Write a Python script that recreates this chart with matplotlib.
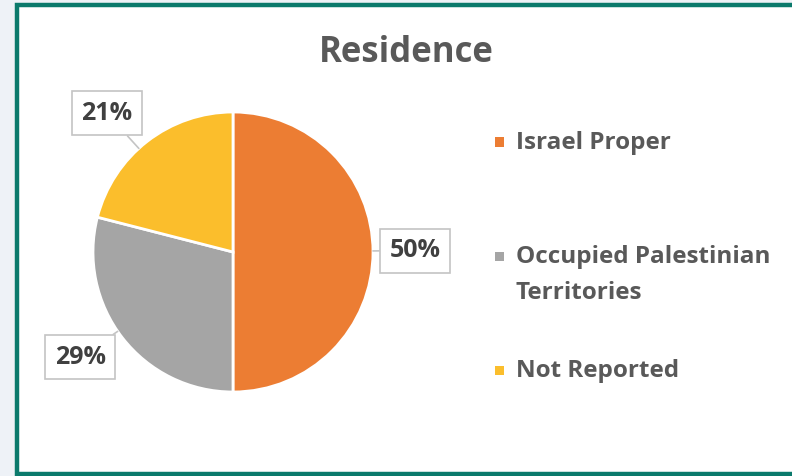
import matplotlib
matplotlib.use("Agg")
import matplotlib.pyplot as plt
from matplotlib.patches import Rectangle
import numpy as np

plt.rcParams['font.family'] = ['Open Sans', 'DejaVu Sans']

## chart data
categories = ["Israel Proper", "Occupied Palestinian\nTerritories", "Not Reported"]
values = [50, 29, 21]
colors = ["#EC7D33", "#A5A5A5", "#FBBE2C"]
title = "Residence"

## label box centres (in pie radius units)
label_xy = [(1.30, 0.01), (-1.09, -0.75), (-0.90, 0.99)]

W, H = 792, 476

def fx(x):
    return x / W

def fy(y):
    return 1 - y / H

fig = plt.figure(figsize=(W / 100, H / 100), dpi=100)
fig.patch.set_facecolor("#eef2f7")

## white panel with teal frame
frame = Rectangle((fx(17), fy(474)), fx(810) - fx(17), fy(5) - fy(474),
                  transform=fig.transFigure, facecolor="white",
                  edgecolor="#0b7a6c", linewidth=3.2, clip_on=False, zorder=-5)
fig.add_artist(frame)

fig.text(fx(406), fy(53), title, ha="center", va="center",
         fontsize=25, fontweight="bold", color="#595959")

## pie
R = 140
ax = fig.add_axes([fx(233 - 150), fy(252 + 150), 300 / W, 300 / H])
ax.patch.set_visible(False)
wedges, _ = ax.pie(values, colors=colors, startangle=90, counterclock=False,
                   radius=1, wedgeprops=dict(edgecolor="white", linewidth=2))
ax.set_xlim(-150 / R, 150 / R)
ax.set_ylim(-150 / R, 150 / R)
ax.set_aspect("equal")
ax.axis("off")

for w, v, pos in zip(wedges, values, label_xy):
    ang = np.arctan2(pos[1], pos[0])
    edge = (np.cos(ang), np.sin(ang))
    ax.annotate(f"{v}%", xy=edge, xytext=pos, ha="center", va="center",
                fontsize=18, fontweight="bold", color="#404040",
                annotation_clip=False,
                bbox=dict(boxstyle="square,pad=0.38", facecolor="white",
                          edgecolor="#c4c4c4", linewidth=1.2),
                arrowprops=dict(arrowstyle="-", color="#c4c4c4", lw=1.2,
                                shrinkA=0, shrinkB=0))

## legend
for i, (lab, c) in enumerate(zip(categories, colors)):
    y = 142 + i * 114
    fig.add_artist(Rectangle((fx(495), fy(y + 4.5)), 9 / W, 9 / H,
                             transform=fig.transFigure, facecolor=c,
                             edgecolor="none"))
    fig.text(fx(516), fy(y - 11), lab, ha="left", va="top",
             fontsize=17.5, fontweight="bold", color="#595959",
             linespacing=1.65)

fig.savefig("out.png", dpi=100, facecolor=fig.get_facecolor())
